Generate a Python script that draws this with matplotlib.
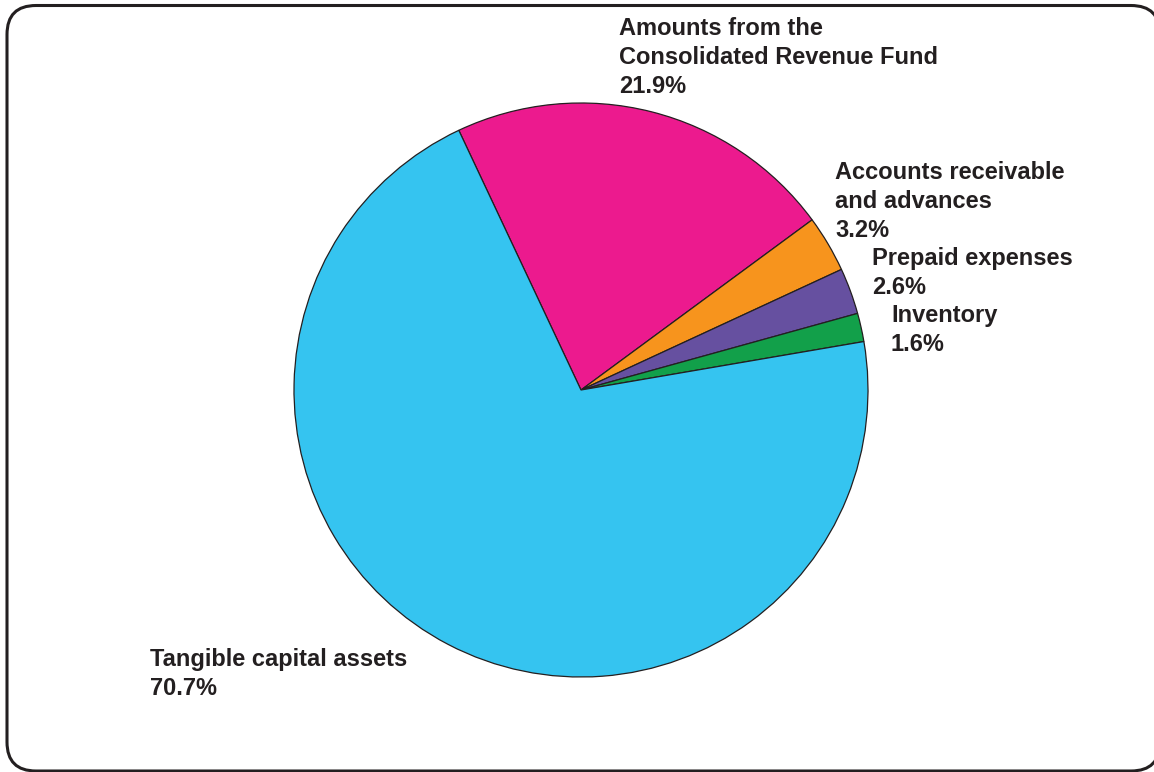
import matplotlib
matplotlib.use("Agg")
import matplotlib.pyplot as plt
from matplotlib.patches import FancyBboxPatch

labels = ["Amounts from the\nConsolidated Revenue Fund", "Accounts receivable\nand advances",
          "Prepaid expenses", "Inventory", "Tangible capital assets"]
values = [21.9, 3.2, 2.6, 1.6, 70.7]
colors = ["#EC1A8E", "#F7941D", "#6650A0", "#12A04A", "#35C4F0"]
label_pos = [(619, 17), (835, 161), (872, 247), (891, 304), (150, 648)]

W, H = 1154, 772
fig = plt.figure(figsize=(W / 100, H / 100), dpi=100)
ax = fig.add_axes([0, 0, 1, 1])
ax.pie(values, colors=colors, startangle=115.2, counterclock=False,
       center=(581, H - 390), radius=287, frame=True,
       wedgeprops=dict(edgecolor="#231F20", linewidth=0.9, zorder=2))
ax.set_xlim(0, W)
ax.set_ylim(0, H)
ax.set_aspect("equal")
ax.axis("off")

border = FancyBboxPatch((7, H - 771), 1153, 765.5,
                        boxstyle="round,pad=0,rounding_size=29",
                        fill=True, facecolor="white", edgecolor="#231F20",
                        linewidth=2.2, zorder=0)
ax.add_patch(border)

plt.rcParams['font.family'] = ['Liberation Sans', 'DejaVu Sans']
for lab, v, (x, y) in zip(labels, values, label_pos):
    fig.text(x / W, 1 - y / H, f"{lab}\n{v:.1f}%", ha="left", va="top",
             fontsize=17, fontweight="bold", color="#231F20",
             linespacing=1.33, family=['Liberation Sans', 'DejaVu Sans'])

fig.savefig("out.png", dpi=100)
